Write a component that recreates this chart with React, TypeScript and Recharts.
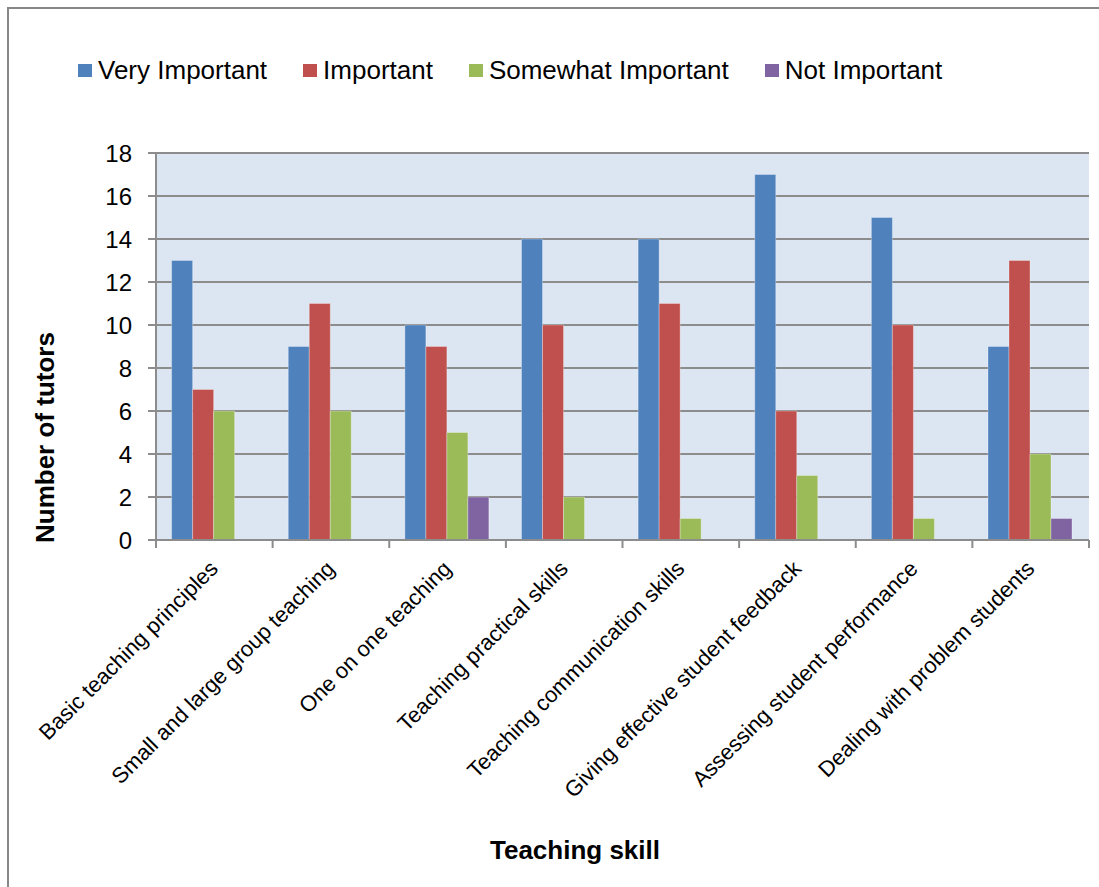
import { BarChart, Bar, XAxis, YAxis, CartesianGrid, Legend } from 'recharts';

const categories = [
  'Basic teaching principles',
  'Small and large group teaching',
  'One on one teaching',
  'Teaching practical skills',
  'Teaching communication skills',
  'Giving effective student feedback',
  'Assessing student performance',
  'Dealing with problem students',
];
const veryImportant = [13, 9, 10, 14, 14, 17, 15, 9];
const important = [7, 11, 9, 10, 11, 6, 10, 13];
const somewhatImportant = [6, 6, 5, 2, 1, 3, 1, 4];
const notImportant = [0, 0, 2, 0, 0, 0, 0, 1];
const yTicks = [0, 2, 4, 6, 8, 10, 12, 14, 16, 18];

const series = [
  { key: 'very', name: 'Very Important', color: '#4f81bd', values: veryImportant },
  { key: 'imp', name: 'Important', color: '#c0504d', values: important },
  { key: 'some', name: 'Somewhat Important', color: '#9bbb59', values: somewhatImportant },
  { key: 'not', name: 'Not Important', color: '#8064a2', values: notImportant },
];

const data = categories.map((name, i) => {
  const row: Record<string, string | number> = { name };
  series.forEach((s) => {
    row[s.key] = s.values[i];
  });
  return row;
});

const W = 1099;
const H = 887;
const margin = { top: 153, right: 10, bottom: 147, left: 0 };
const Y_AXIS_W = 156;
const FONT = '"Liberation Sans", Arial, sans-serif';
const AXIS_GREY = '#8c8c8c';
const band = (W - margin.left - margin.right - Y_AXIS_W) / categories.length;

function XTick(props: any) {
  const { x, y, payload, index } = props;
  const i = payload?.index ?? index;
  const ax = x + 5;
  const ay = y + 30;
  return (
    <g>
      <line x1={x - band / 2} x2={x - band / 2} y1={y} y2={y + 8} stroke={AXIS_GREY} strokeWidth={2} />
      {i === categories.length - 1 && (
        <line x1={x + band / 2} x2={x + band / 2} y1={y} y2={y + 8} stroke={AXIS_GREY} strokeWidth={2} />
      )}
      <text
        x={ax}
        y={ay}
        textAnchor="end"
        transform={`rotate(-45, ${ax}, ${ay})`}
        fontSize={22}
        fontFamily={FONT}
        fill="#000"
      >
        {payload.value}
      </text>
    </g>
  );
}

function LegendBox() {
  return (
    <div style={{ display: 'flex', alignItems: 'center', fontFamily: FONT, fontSize: 26, color: '#000' }}>
      {series.map((s) => (
        <div key={s.key} style={{ display: 'flex', alignItems: 'center', marginRight: 36 }}>
          <span style={{ display: 'inline-block', width: 14, height: 13, background: s.color, marginRight: 6 }} />
          <span>{s.name}</span>
        </div>
      ))}
    </div>
  );
}

export default function App() {
  return (
    <div style={{ position: 'absolute', left: 0, top: 0, width: W, height: H, overflow: 'hidden', background: '#fff' }}>
      <div
        style={{
          position: 'absolute',
          left: 7,
          top: 7,
          width: 1300,
          height: 1100,
          border: `2px solid #878787`,
        }}
      />
      <div style={{ position: 'absolute', left: 0, top: 0 }}>
        <BarChart width={W} height={H} data={data} margin={margin} barCategoryGap="13.4%" barGap={0}>
          <CartesianGrid vertical={false} stroke={AXIS_GREY} strokeWidth={2} fill="#dce6f2" fillOpacity={1} />
          <XAxis
            dataKey="name"
            height={200}
            interval={0}
            tickLine={false}
            tickSize={0}
            tickMargin={0}
            axisLine={{ stroke: AXIS_GREY, strokeWidth: 2 }}
            tick={<XTick />}
            label={{
              content: () => (
                <text x={575} y={859} textAnchor="middle" fontSize={26} fontWeight="bold" fontFamily={FONT} fill="#000">
                  Teaching skill
                </text>
              ),
            }}
          />
          <YAxis
            width={Y_AXIS_W}
            domain={[0, 18]}
            ticks={yTicks}
            interval={0}
            tickSize={8}
            tickMargin={16}
            tick={{ fontSize: 24, fill: '#000', fontFamily: FONT }}
            tickLine={{ stroke: AXIS_GREY, strokeWidth: 2 }}
            axisLine={{ stroke: AXIS_GREY, strokeWidth: 2 }}
            label={{
              content: (p: any) => {
                const vb = p.viewBox || { y: 153, height: 387 };
                const ty = vb.y + vb.height + 3;
                return (
                  <text
                    x={54}
                    y={ty}
                    textAnchor="start"
                    transform={`rotate(-90, 54, ${ty})`}
                    fontSize={26}
                    fontWeight="bold"
                    fontFamily={FONT}
                    fill="#000"
                  >
                    Number of tutors
                  </text>
                );
              },
            }}
          />
          <Legend
            layout="horizontal"
            verticalAlign="middle"
            align="center"
            content={<LegendBox />}
            wrapperStyle={{ top: 55, left: 78, width: 1000, height: 36 }}
          />
          {series.map((s) => (
            <Bar
              key={s.key}
              dataKey={s.key}
              name={s.name}
              fill={s.color}
              stroke="rgba(255,255,255,0.3)"
              strokeWidth={1}
              isAnimationActive={false}
            />
          ))}
        </BarChart>
      </div>
    </div>
  );
}
